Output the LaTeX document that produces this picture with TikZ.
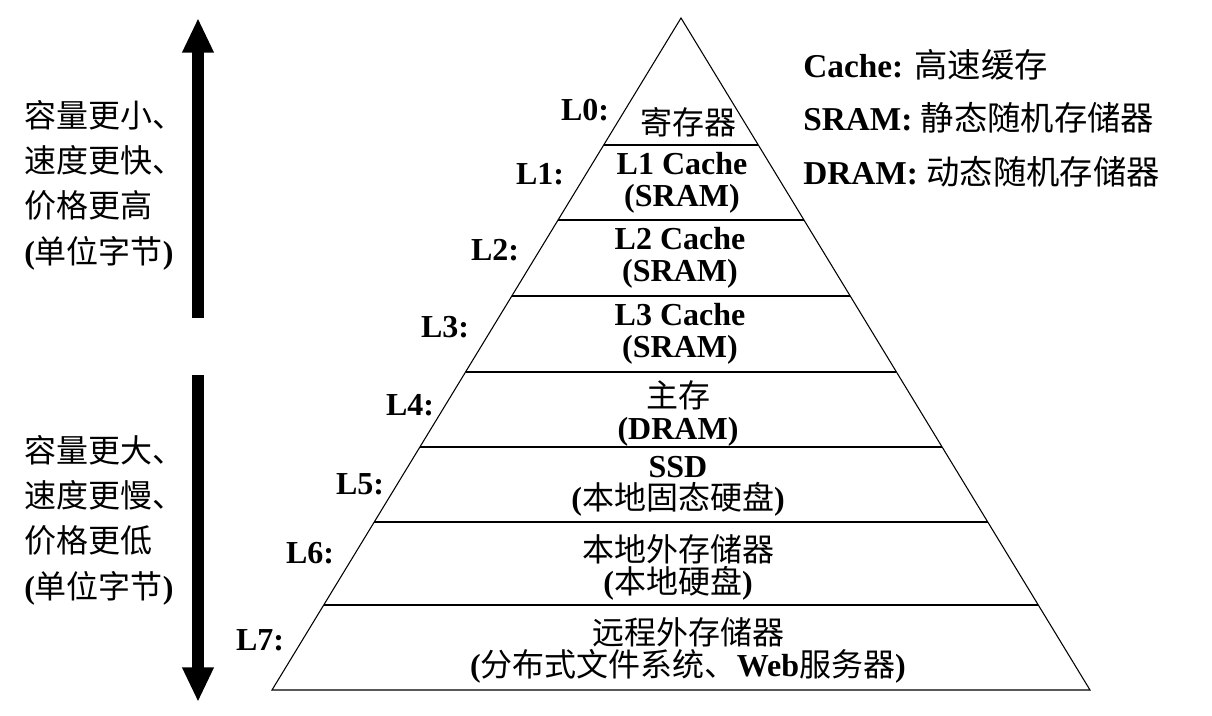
\documentclass[tikz,border=0pt]{standalone}
\usepackage{fontspec}
\setmainfont{Liberation Serif}
\newfontfamily\cjk{Noto Sans CJK SC}
\usetikzlibrary{arrows.meta}
\begin{document}
\begin{tikzpicture}[x=0.75pt,y=-0.75pt,
  lay/.style={line width=0.8pt},
  txt/.style={font=\fontsize{24}{24}\selectfont\bfseries,align=center,inner sep=0pt},
  lbl/.style={font=\fontsize{24}{25}\selectfont\bfseries,inner sep=0pt},
  side/.style={font=\fontsize{24}{34}\selectfont\bfseries,align=left,inner sep=0pt},
  big/.style={line width=9pt,-{Triangle[length=26pt,width=22pt]}}]
\useasboundingbox (0,0) rectangle (1212,716);
\coordinate (apex) at (681,18);
\coordinate (bl) at (272,690);
\coordinate (br) at (1090,690);
\draw[lay] (apex) -- (bl) -- (br) -- cycle;
\foreach \y in {145,220,296,372,447,522,605}{
  \pgfmathsetmacro{\h}{(\y-18)*0.6086}
  \draw[lay] (681-\h,\y) -- (681+\h,\y);}
\node[lbl] (l0) at (585,110) {L0:};
\node[lbl] (l1) at (540,174) {L1:};
\node[lbl] (l2) at (495,250) {L2:};
\node[lbl] (l3) at (445,327) {L3:};
\node[lbl] (l4) at (410,405) {L4:};
\node[lbl] (l5) at (360,484) {L5:};
\node[lbl] (l6) at (310,553) {L6:};
\node[lbl] (l7) at (260,640) {L7:};
\node[txt] (t0) at (688,122) {\cjk\mdseries 寄存器};
\node[txt] (t1) at (682,183) {L1 Cache\\(SRAM)};
\node[txt] (t2) at (680,258) {L2 Cache\\(SRAM)};
\node[txt] (t3) at (680,334) {L3 Cache\\(SRAM)};
\node[txt] (t4) at (678,413) {{\cjk\mdseries 主存}\\(DRAM)};
\node[txt] (t5) at (678,486) {SSD\\({\cjk\mdseries 本地固态硬盘})};
\node[txt] (t6) at (678,567) {{\cjk\mdseries 本地外存储器}\\({\cjk\mdseries 本地硬盘})};
\node[txt] (t7) at (688,650) {{\cjk\mdseries 远程外存储器}\\({\cjk\mdseries 分布式文件系统、}Web{\cjk\mdseries 服务器})};
\node[lbl,anchor=west,font=\fontsize{25}{25}\selectfont\bfseries] (g1) at (803,65) {Cache: {\cjk\mdseries 高速缓存}};
\node[lbl,anchor=west,font=\fontsize{25}{25}\selectfont\bfseries] (g2) at (803,118) {SRAM: {\cjk\mdseries 静态随机存储器}};
\node[lbl,anchor=west,font=\fontsize{25}{25}\selectfont\bfseries] (g3) at (803,172) {DRAM: {\cjk\mdseries 动态随机存储器}};
\coordinate (a1s) at (198,318);
\coordinate (a1e) at (198,18);
\coordinate (a2s) at (198,375);
\coordinate (a2e) at (198,702);
\draw[big] (a1s) -- (a1e);
\draw[big] (a2s) -- (a2e);
\node[side,anchor=west] (s1) at (24,185) {{\cjk\mdseries 容量更小、}\\{\cjk\mdseries 速度更快、}\\{\cjk\mdseries 价格更高}\\({\cjk\mdseries 单位字节})};
\node[side,anchor=west] (s2) at (24,520) {{\cjk\mdseries 容量更大、}\\{\cjk\mdseries 速度更慢、}\\{\cjk\mdseries 价格更低}\\({\cjk\mdseries 单位字节})};
\end{tikzpicture}
\end{document}
